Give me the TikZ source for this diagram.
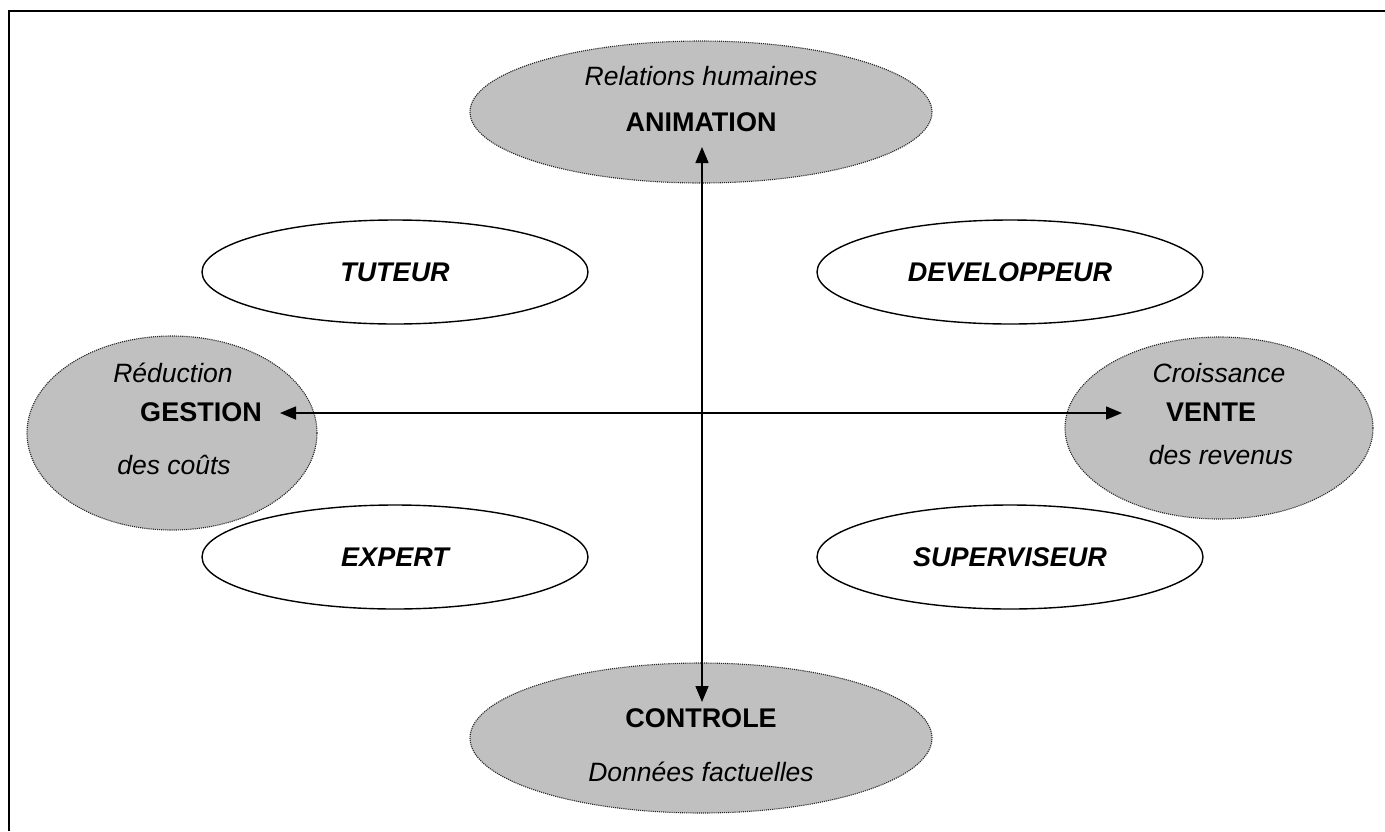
\documentclass[tikz,border=0pt]{standalone}
\usepackage{fontspec}
\setmainfont{Liberation Sans}
\usetikzlibrary{shapes.geometric,arrows.meta}
\definecolor{fondgris}{HTML}{C0C0C0}
\begin{document}
\begin{tikzpicture}[x=1pt,y=-1pt,
  pole/.style={ellipse, fill=fondgris, draw=black!85, densely dotted, line width=1.1pt, inner sep=0pt},
  role/.style={ellipse, fill=white, draw=black, line width=1.4pt, inner sep=0pt,
    minimum width=386pt, minimum height=104pt, font=\fontsize{27}{32}\selectfont\bfseries\itshape},
  titre/.style={font=\fontsize{27}{32}\selectfont\bfseries, inner sep=0pt},
  sous/.style={font=\fontsize{26.5}{32}\selectfont\itshape, inner sep=0pt},
  axe/.style={line width=1.5pt, {Triangle[length=16pt,width=13pt]}-{Triangle[length=16pt,width=13pt]}}]
\useasboundingbox (0,0) rectangle (1385,831);
% cadre
\draw[line width=1.5pt] (9,831) -- (9,11) -- (1385,11);

% les quatre poles (gris)
\node[pole, minimum width=462pt, minimum height=142pt] (anim) at (701,112) {};
\node[pole, minimum width=462pt, minimum height=150pt] (ctrl) at (701,738) {};
\node[pole, minimum width=290pt, minimum height=194pt] (gest) at (172,433) {};
\node[pole, minimum width=308pt, minimum height=182pt] (vente) at (1219,428) {};

% les quatre roles (blancs)
\node[role] (tuteur) at (395,272) {TUTEUR};
\node[role] (dev) at (1010,272) {DEVELOPPEUR};
\node[role] (expert) at (395,557) {EXPERT};
\node[role] (superv) at (1010,557) {SUPERVISEUR};

% textes des poles
\node[sous] (animsous) at (701,76) {Relations humaines};
\node[titre] (animtit) at (701,122) {ANIMATION};
\node[titre] (ctrltit) at (701,718) {CONTROLE};
\node[sous] (ctrlsous) at (701,772) {Données factuelles};
\node[sous] (gesthaut) at (173,373) {Réduction};
\node[titre] (gesttit) at (201,412) {GESTION};
\node[sous] (gestbas) at (174,465) {des coûts};
\node[sous] (ventehaut) at (1219,373) {Croissance};
\node[titre] (ventetit) at (1211,412) {VENTE};
\node[sous] (ventebas) at (1221,455) {des revenus};

% axes
\coordinate (haut) at (702,147);
\coordinate (bas) at (702,702);
\coordinate (gauche) at (280,413);
\coordinate (droite) at (1122,413);
\draw[axe] (haut) -- (bas);
\draw[axe] (gauche) -- (droite);
\end{tikzpicture}
\end{document}
